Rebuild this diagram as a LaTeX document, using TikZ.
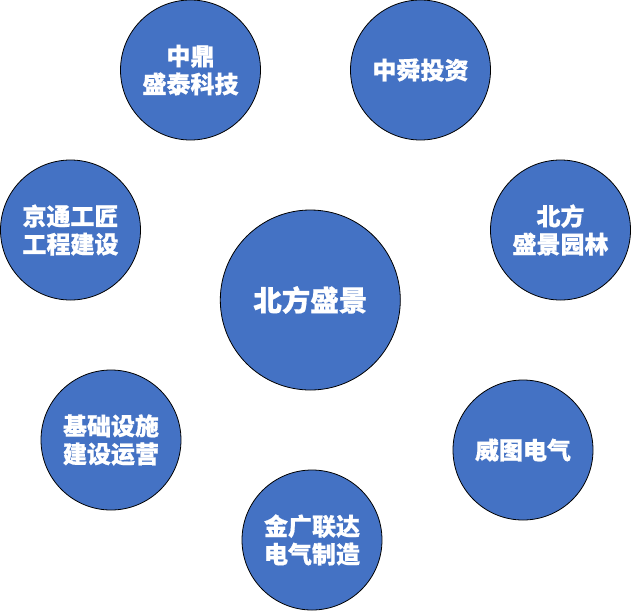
\documentclass[tikz,border=0pt]{standalone}
\usepackage{fontspec}
\newfontfamily\cjk{Noto Sans CJK SC}[BoldFeatures={FakeBold=0.6}]
\begin{document}
\begin{tikzpicture}[x=1pt,y=-1pt,
  firm/.style={circle,draw=black,line width=0.8pt,fill=blueA,minimum size=140pt,inner sep=0pt,
    text=white,font=\cjk\bfseries\fontsize{24}{28}\selectfont,align=center},
  core/.style={firm,minimum size=180pt,font=\cjk\bfseries\fontsize{28.5}{33}\selectfont}]
\definecolor{blueA}{HTML}{4472C4}
\useasboundingbox (0,0) rectangle (631,611);
\node[core] (c) at (310.3,300) {北方盛景};
\node[firm] (a) at (190.5,70) {中鼎\\盛泰科技};
\node[firm] (b) at (420.5,70) {中舜投资};
\node[firm] (d) at (70.5,230) {京通工匠\\工程建设};
\node[firm] (e) at (560.5,230) {北方\\盛景园林};
\node[firm] (f) at (111,440) {基础设施\\建设运营};
\node[firm] (g) at (523,450) {威图电气};
\node[firm] (h) at (312,540) {金广联达\\电气制造};
\end{tikzpicture}
\end{document}
